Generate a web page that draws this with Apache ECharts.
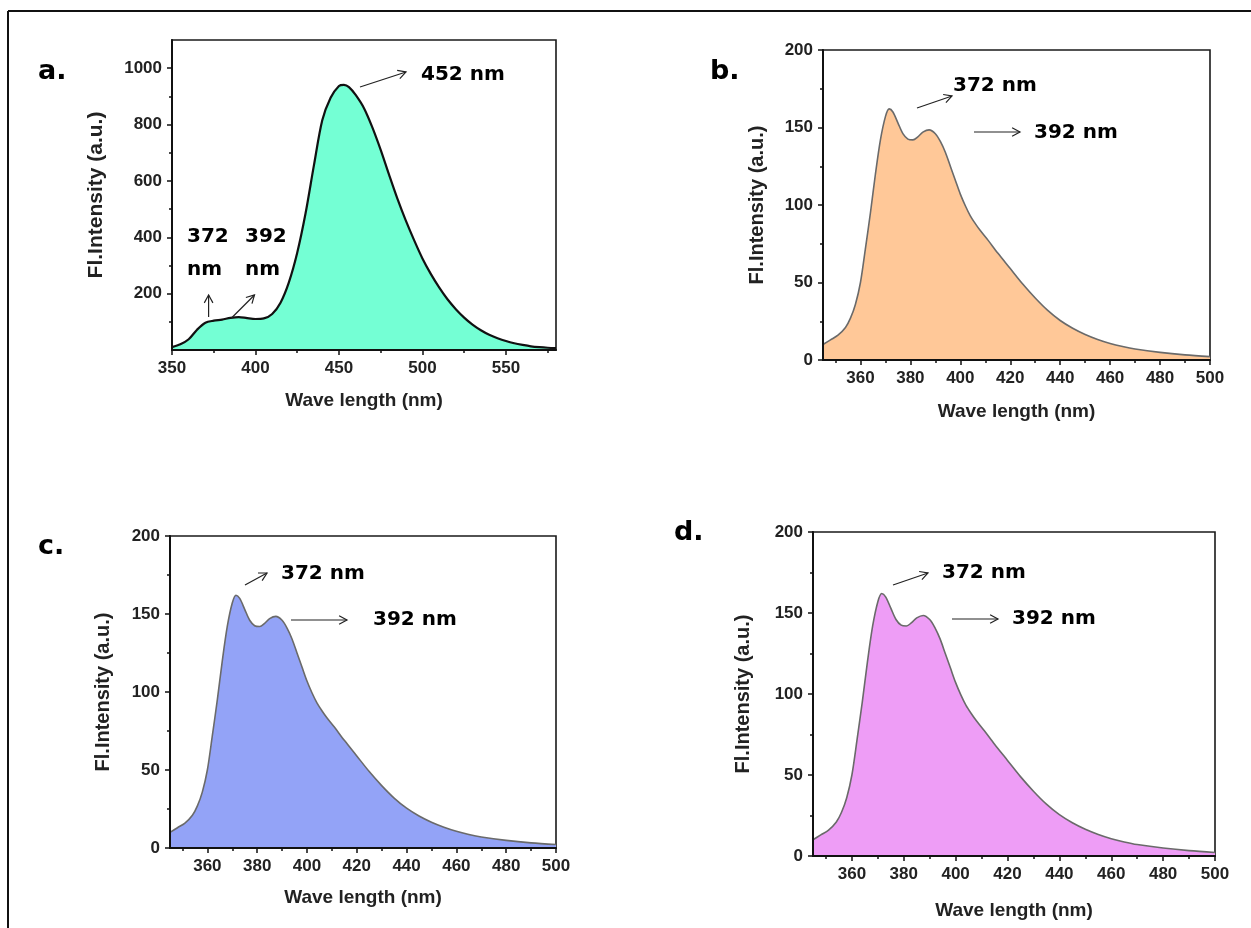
<!DOCTYPE html>
<html>
<head>
<meta charset="utf-8">
<script src="https://cdn.jsdelivr.net/npm/echarts@6/dist/echarts.min.js"></script>
<style>
html,body{margin:0;padding:0;background:#fff;}
#chart{width:1251px;height:928px;}
</style>
</head>
<body>
<div id="chart"></div>
<script>
// ---- Data ----
const wavelengthA = [350,355,360,365,370,375,380,385,390,395,400,405,410,415,420,425,430,435,440,445,450,453,456,460,465,470,475,480,485,490,495,500,505,510,515,520,525,530,535,540,545,550,555,560,565,570,575,580];
const intensityA  = [10,20,38,72,97,104,108,114,117,113,110,112,128,168,240,345,485,655,815,895,937,941,933,905,858,790,710,622,537,460,390,325,270,222,180,145,115,90,70,54,42,32,24,18,13,10,8,7];

const wavelengthBCD = [345,348,351,354,356,358,360,362,364,366,368,370,371.5,373,375,377,379,381,383,385,387.5,390,392,394,396,398,400,402,404,406,408,411,415,420,425,430,435,440,445,450,455,460,465,470,480,490,500];
const intensityB = [10,13,16,21,27,36,50,72,95,120,142,157,162,160,153,146,142.5,142,144,147,148.5,146,141,134,125,116,107,99.5,93,88,83.5,77.5,69,59,49,40,32,25.5,20.5,16.5,13.3,10.7,8.7,7.1,4.9,3.3,2.2];
const intensityC = intensityB.slice();
const intensityD = intensityB.slice();

const xTicksA = [350,400,450,500,550];
const xMinorA = [375,425,475,525,575];
const yTicksA = [200,400,600,800,1000];
const yMinorA = [100,300,500,700,900];
const xTicksBCD = [360,380,400,420,440,460,480,500];
const xMinorBCD = [350,370,390,410,430,450,470,490];
const yTicksBCD = [0,50,100,150,200];
const yMinorBCD = [25,75,125,175];

const xName = 'Wave length (nm)';
const yName = 'Fl.Intensity (a.u.)';

// ---- Layout ----
const panels = [
  {left:172, top:40,  width:384, height:310, xMin:350, xMax:580, yMin:0, yMax:1100,
   xT:xTicksA, xM:xMinorA, yT:yTicksA, yM:yMinorA, wl:wavelengthA, v:intensityA,
   fill:'#74FFD4', stroke:'#111111', sw:2.2, xGap:41, yGap:65, yFs:21},
  {left:823, top:50,  width:387, height:310, xMin:345, xMax:500, yMin:0, yMax:200,
   xT:xTicksBCD, xM:xMinorBCD, yT:yTicksBCD, yM:yMinorBCD, wl:wavelengthBCD, v:intensityB,
   fill:'#FFC898', stroke:'#6a6a6a', sw:1.6, xGap:42, yGap:56, yFs:20},
  {left:170, top:536, width:386, height:312, xMin:345, xMax:500, yMin:0, yMax:200,
   xT:xTicksBCD, xM:xMinorBCD, yT:yTicksBCD, yM:yMinorBCD, wl:wavelengthBCD, v:intensityC,
   fill:'#93A3F7', stroke:'#6a6a6a', sw:1.6, xGap:40, yGap:57, yFs:20},
  {left:813, top:532, width:402, height:324, xMin:345, xMax:500, yMin:0, yMax:200,
   xT:xTicksBCD, xM:xMinorBCD, yT:yTicksBCD, yM:yMinorBCD, wl:wavelengthBCD, v:intensityD,
   fill:'#EE9DF6', stroke:'#6a6a6a', sw:1.6, xGap:45, yGap:60, yFs:20}
];

const FONT = '"Liberation Sans", Arial, sans-serif';
const labelStyle = {fontSize:17, fontWeight:'bold', color:'#222', fontFamily:FONT};
const nameStyle = {fontSize:19, fontWeight:'bold', color:'#222', fontFamily:FONT};

const grids = [], xAxes = [], yAxes = [], series = [];
panels.forEach((p, i) => {
  grids.push({left:p.left, top:p.top, width:p.width, height:p.height, show:true,
    borderColor:'#1a1a1a', borderWidth:1.6, backgroundColor:'transparent', containLabel:false});
  xAxes.push({gridIndex:i, type:'value', min:p.xMin, max:p.xMax, position:'bottom', z:5,
    axisLine:{show:true, onZero:false, lineStyle:{color:'#111', width:2}},
    axisTick:{show:true, inside:false, length:5, customValues:p.xT, lineStyle:{color:'#111', width:1.5}},
    axisLabel:{show:true, customValues:p.xT, margin:10, formatter:v => String(v), ...labelStyle},
    splitLine:{show:false},
    name:xName, nameLocation:'middle', nameGap:p.xGap, nameTextStyle:nameStyle});
  xAxes.push({gridIndex:i, type:'value', min:p.xMin, max:p.xMax, position:'bottom', z:5,
    axisLine:{show:false, onZero:false},
    axisTick:{show:true, inside:false, length:3, customValues:p.xM, lineStyle:{color:'#111', width:1.5}},
    axisLabel:{show:false}, splitLine:{show:false}});
  yAxes.push({gridIndex:i, type:'value', min:p.yMin, max:p.yMax, position:'left', z:5,
    axisLine:{show:true, onZero:false, lineStyle:{color:'#111', width:2}},
    axisTick:{show:true, inside:false, length:5, customValues:p.yT, lineStyle:{color:'#111', width:1.5}},
    axisLabel:{show:true, customValues:p.yT, margin:10, formatter:v => String(v), ...labelStyle},
    splitLine:{show:false},
    name:yName, nameLocation:'middle', nameGap:p.yGap, nameRotate:90,
    nameTextStyle:{...nameStyle, fontSize:p.yFs}});
  yAxes.push({gridIndex:i, type:'value', min:p.yMin, max:p.yMax, position:'left', z:5,
    axisLine:{show:false, onZero:false},
    axisTick:{show:true, inside:false, length:3, customValues:p.yM, lineStyle:{color:'#111', width:1.5}},
    axisLabel:{show:false}, splitLine:{show:false}});
  series.push({type:'line', xAxisIndex:2*i, yAxisIndex:2*i, smooth:0.3, symbol:'none',
    data:p.wl.map((x, k) => [x, p.v[k]]),
    lineStyle:{color:p.stroke, width:p.sw},
    areaStyle:{color:p.fill, opacity:1}, z:2, animation:false});
});

// ---- Annotations (layout, pixel positions) ----
const ANN_FONT = 'bold 20px "DejaVu Sans", sans-serif';
const LET_FONT = 'bold 27px "DejaVu Sans", sans-serif';
const texts = [
  ['a.', 38, 72, LET_FONT], ['b.', 710, 72, LET_FONT], ['c.', 38, 547, LET_FONT], ['d.', 674, 533, LET_FONT],
  ['452 nm', 421, 75, ANN_FONT],
  ['372', 187, 237, ANN_FONT], ['nm', 187, 270, ANN_FONT],
  ['392', 245, 237, ANN_FONT], ['nm', 245, 270, ANN_FONT],
  ['372 nm', 953, 86, ANN_FONT], ['392 nm', 1034, 133, ANN_FONT],
  ['372 nm', 281, 574, ANN_FONT], ['392 nm', 373, 620, ANN_FONT],
  ['372 nm', 942, 573, ANN_FONT], ['392 nm', 1012, 619, ANN_FONT]
];
const arrows = [
  [360,87,406,72], [208.6,317,208.6,295], [231.5,318,254.5,295],
  [917,108,952,96], [974,132,1020,132],
  [245,585,267,573], [291,620,347,620],
  [893,585,928,573], [952,619,998,619]
];

const graphic = [];
// outer frame (top and left edges)
graphic.push({type:'line', shape:{x1:8, y1:11, x2:1251, y2:11}, style:{stroke:'#111', lineWidth:2}, z:10});
graphic.push({type:'line', shape:{x1:8, y1:11, x2:8, y2:928}, style:{stroke:'#111', lineWidth:2}, z:10});
texts.forEach(t => {
  graphic.push({type:'text', x:t[1], y:t[2], z:10,
    style:{text:t[0], font:t[3], fill:'#000', align:'left', verticalAlign:'middle'}});
});
arrows.forEach(a => {
  const [x1,y1,x2,y2] = a;
  const ang = Math.atan2(y2-y1, x2-x1);
  const L = 9, spread = 0.5;
  const h1 = [x2 - L*Math.cos(ang - spread), y2 - L*Math.sin(ang - spread)];
  const h2 = [x2 - L*Math.cos(ang + spread), y2 - L*Math.sin(ang + spread)];
  graphic.push({type:'line', shape:{x1, y1, x2, y2}, style:{stroke:'#222', lineWidth:1.2}, z:10});
  graphic.push({type:'polyline', shape:{points:[h1, [x2,y2], h2]}, style:{stroke:'#222', lineWidth:1.2, fill:null}, z:10});
});

const chart = echarts.init(document.getElementById('chart'), null, {renderer:'canvas'});
chart.setOption({
  animation:false,
  backgroundColor:'#ffffff',
  grid:grids, xAxis:xAxes, yAxis:yAxes, series:series, graphic:graphic
});
</script>
</body>
</html>
